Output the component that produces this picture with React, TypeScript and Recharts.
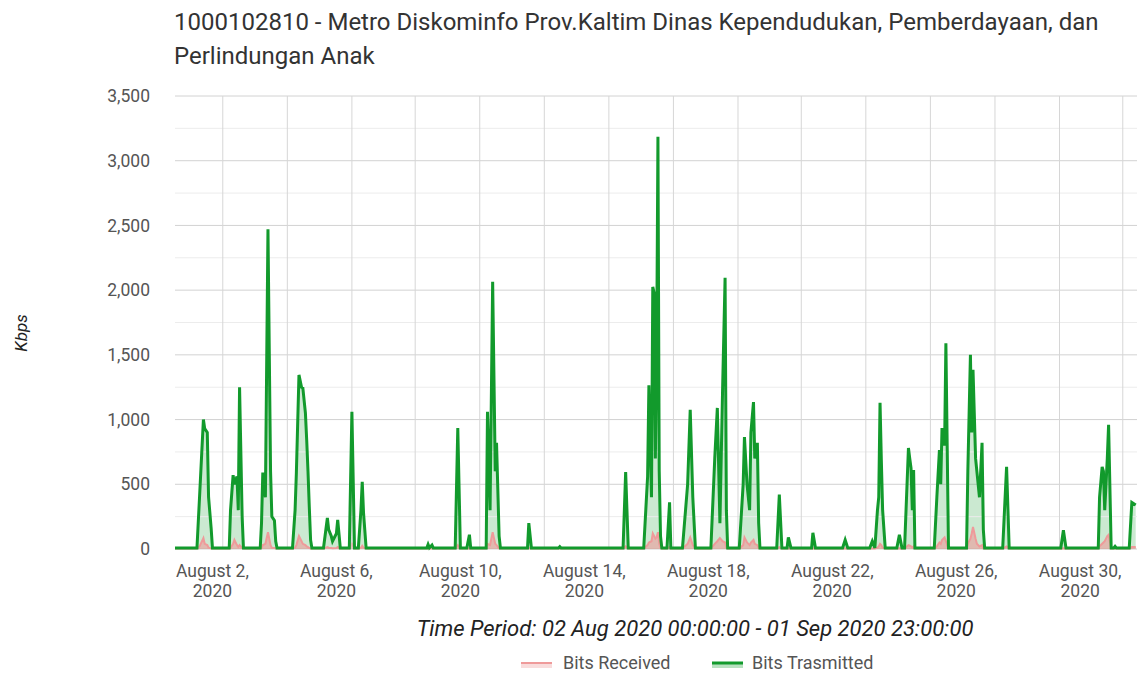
import React from 'react';
import { ComposedChart, Area, Line, XAxis, YAxis, CartesianGrid, ReferenceLine } from 'recharts';

const TITLE_LINES = [
  '1000102810 - Metro Diskominfo Prov.Kaltim Dinas Kependudukan, Pemberdayaan, dan',
  'Perlindungan Anak',
];
const X_AXIS_TITLE = 'Time Period: 02 Aug 2020 00:00:00 - 01 Sep 2020 23:00:00';
const Y_AXIS_TITLE = 'Kbps';
const SERIES_NAMES = ['Bits Received', 'Bits Trasmitted'];
const SERIES_COLORS = ['#ef9a9a', '#129a2c'];

// hour index since the start of the plotted period
const hours = [
  0, 17, 19, 22, 23, 25, 26, 28, 29,
  42, 43, 45, 46, 48, 49, 50, 52, 53,
  66, 67, 68, 70, 72, 74, 75, 77, 78, 79,
  91, 93, 94, 96, 98, 99, 101, 102, 103, 104, 105, 106,
  115, 118, 119, 121, 122, 125, 126, 128,
  135, 137, 139,
  142, 144, 145, 146, 148,
  195, 196, 197, 199, 200,
  217, 219, 221, 226, 228, 229,
  241, 242, 244, 246, 248, 249, 251, 252,
  273, 274, 276, 297, 298, 299,
  347, 349, 351,
  363, 366, 367, 369, 370, 371, 372, 373, 374, 375, 376, 377,
  381, 383, 384,
  393, 397, 399, 401, 403,
  415, 418, 420, 422, 424, 426, 427, 428,
  437, 440, 441, 443, 445, 446, 448, 449, 451, 452, 453,
  466, 468, 470, 474, 475, 477,
  493, 494, 496, 517, 519, 521, 538, 540,
  542, 544, 545, 546, 547, 548, 550,
  559, 561, 563,
  565, 568, 569, 570, 571, 572, 573,
  588, 590, 592, 593, 594, 596, 597, 599,
  613, 614, 616, 617, 618, 620, 621, 623, 625, 626, 627,
  641, 644, 646, 686, 688, 690,
  715, 716, 718, 719, 720, 722, 723, 725,
  727, 728, 729, 739, 741, 744,
];

const bitsTransmitted = [
  8, 8, 400, 1000, 930, 900, 400, 160, 8,
  8, 300, 570, 500, 560, 300, 1250, 250, 8,
  8, 200, 590, 400, 2470, 600, 250, 220, 60, 8,
  8, 300, 590, 1345, 1250, 1245, 1050, 840, 600, 325, 70, 8,
  8, 240, 150, 100, 60, 120, 225, 8,
  8, 1060, 8,
  8, 300, 520, 280, 8,
  8, 35, 10, 30, 8,
  8, 935, 8, 8, 110, 8,
  8, 1060, 300, 2065, 600, 820, 100, 8,
  8, 200, 8, 8, 18, 8,
  8, 595, 8,
  8, 560, 1265, 400, 2025, 1980, 700, 1500, 3185, 600, 100, 8,
  8, 360, 8,
  8, 500, 1075, 400, 8,
  8, 700, 1090, 200, 1200, 2095, 300, 8,
  8, 500, 865, 500, 300, 900, 1135, 700, 820, 200, 8,
  8, 420, 8, 8, 90, 8,
  8, 125, 8, 8, 70, 8, 8, 60,
  8, 300, 400, 1130, 690, 300, 8,
  8, 110, 8,
  8, 780, 700, 625, 300, 610, 8,
  8, 400, 765, 500, 935, 800, 1590, 8,
  8, 600, 1500, 900, 1385, 700, 600, 400, 820, 150, 8,
  8, 635, 8, 8, 145, 8,
  8, 400, 635, 600, 300, 700, 960, 8,
  8, 20, 8, 8, 360, 340,
];

const bitsReceived = [
  3, 3, 20, 85, 40, 30, 10, 5, 3,
  3, 10, 40, 70, 30, 15, 30, 8, 3,
  3, 10, 30, 40, 130, 30, 10, 8, 3, 3,
  3, 10, 30, 100, 60, 40, 30, 20, 15, 8, 3, 3,
  3, 15, 10, 8, 5, 8, 15, 3,
  3, 40, 3,
  3, 10, 25, 10, 3,
  3, 3, 3, 3, 3,
  3, 30, 3, 3, 5, 3,
  3, 40, 30, 130, 40, 30, 5, 3,
  3, 8, 3, 3, 3, 3,
  3, 20, 3,
  3, 30, 50, 60, 120, 100, 80, 90, 130, 40, 10, 3,
  3, 15, 3,
  3, 40, 90, 30, 3,
  3, 40, 60, 85, 60, 50, 10, 3,
  3, 30, 90, 50, 30, 50, 70, 40, 30, 8, 3,
  3, 15, 3, 3, 5, 3,
  3, 5, 3, 3, 3, 3, 3, 3,
  3, 10, 20, 40, 30, 10, 3,
  3, 5, 3,
  3, 30, 25, 20, 10, 20, 3,
  3, 20, 50, 40, 70, 90, 60, 3,
  3, 40, 80, 120, 170, 80, 40, 20, 30, 5, 3,
  3, 20, 3, 3, 5, 3,
  3, 20, 40, 50, 60, 100, 110, 3,
  3, 3, 3, 3, 15, 15,
];

const xTickHours = [29, 125, 221, 317, 413, 509, 605, 701];
const xTickLabels = ['August 2,', 'August 6,', 'August 10,', 'August 14,', 'August 18,', 'August 22,', 'August 26,', 'August 30,'];
const xTickYear = '2020';
const xGridHours = [37, 87, 137, 186, 236, 286, 336, 386, 436, 485, 535, 585, 635, 685, 734];
const yTicks = [0, 500, 1000, 1500, 2000, 2500, 3000, 3500];
const yMinorTicks = [250, 750, 1250, 1750, 2250, 2750, 3250];

const data = hours.map((h, i) => ({ hour: h, rx: bitsReceived[i], tx: bitsTransmitted[i] }));

const FONT = 'Roboto, Arial, sans-serif';

const XTick = (props: any) => {
  const { x, y, payload } = props;
  const i = xTickHours.indexOf(payload.value);
  return (
    <text x={x} y={y} textAnchor="middle" fill="#555" fontSize={17.5} fontFamily={FONT}>
      <tspan x={x} dy={28}>{xTickLabels[i]}</tspan>
      <tspan x={x} dy={20}>{xTickYear}</tspan>
    </text>
  );
};

export default function App() {
  return (
    <div style={{ position: 'absolute', left: 0, top: 0, width: 1137, height: 678, background: '#fff', fontFamily: FONT }}>
      <ComposedChart width={1137} height={678} data={data} margin={{ top: 96, right: 0, bottom: 79, left: 115 }}>
        <CartesianGrid vertical={false} stroke="#d2d2d2" />
        {yMinorTicks.map((v) => (
          <ReferenceLine key={'m' + v} y={v} stroke="#ececec" />
        ))}
        {xGridHours.map((h) => (
          <ReferenceLine key={'g' + h} x={h} stroke="#d6d6d6" />
        ))}
        <XAxis
          dataKey="hour"
          type="number"
          domain={[0, 745]}
          ticks={xTickHours}
          interval={0}
          tick={<XTick />}
          tickLine={false}
          axisLine={false}
          tickSize={0}
          tickMargin={0}
          height={50}
          allowDataOverflow
        />
        <YAxis
          domain={[0, 3500]}
          ticks={yTicks}
          width={60}
          tickLine={false}
          axisLine={false}
          tickSize={0}
          tickMargin={25}
          tick={{ fontSize: 17.5, fill: '#555', fontFamily: FONT }}
          tickFormatter={(v: number) => v.toLocaleString('en-US')}
        />
        <Area
          type="linear"
          dataKey="tx"
          name={SERIES_NAMES[1] + ' fill'}
          stroke="none"
          fill={SERIES_COLORS[1]}
          fillOpacity={0.22}
          isAnimationActive={false}
          dot={false}
          activeDot={false}
        />
        <Area
          type="linear"
          dataKey="rx"
          name={SERIES_NAMES[0]}
          stroke={SERIES_COLORS[0]}
          strokeWidth={2}
          fill={SERIES_COLORS[0]}
          fillOpacity={0.6}
          isAnimationActive={false}
          dot={false}
          activeDot={false}
        />
        <Line
          type="linear"
          dataKey="tx"
          name={SERIES_NAMES[1]}
          stroke={SERIES_COLORS[1]}
          strokeWidth={3}
          isAnimationActive={false}
          dot={false}
          activeDot={false}
        />
      </ComposedChart>
      <svg
        width={1137}
        height={678}
        style={{ position: 'absolute', left: 0, top: 0, pointerEvents: 'none' }}
      >
        <text x={174} y={30} fontSize={24} fill="#333" fontFamily={FONT}>{TITLE_LINES[0]}</text>
        <text x={174} y={64} fontSize={24} fill="#333" fontFamily={FONT}>{TITLE_LINES[1]}</text>
        <text
          x={27}
          y={333}
          transform="rotate(-90 27 333)"
          textAnchor="middle"
          fontSize={17}
          fontStyle="italic"
          fill="#222"
          fontFamily={FONT}
        >
          {Y_AXIS_TITLE}
        </text>
        <text x={695} y={636} textAnchor="middle" fontSize={22} fontStyle="italic" fill="#222" fontFamily={FONT}>
          {X_AXIS_TITLE}
        </text>
        <g>
          <rect x={521} y={663} width={31} height={5} fill={SERIES_COLORS[0]} fillOpacity={0.35} />
          <line x1={521} y1={663} x2={552} y2={663} stroke={SERIES_COLORS[0]} strokeWidth={2} />
          <text x={563} y={669} fontSize={18} fill="#555" fontFamily={FONT}>{SERIES_NAMES[0]}</text>
          <rect x={712} y={663} width={31} height={5} fill={SERIES_COLORS[1]} fillOpacity={0.3} />
          <line x1={712} y1={663} x2={743} y2={663} stroke={SERIES_COLORS[1]} strokeWidth={3} />
          <text x={752} y={669} fontSize={18} fill="#555" fontFamily={FONT}>{SERIES_NAMES[1]}</text>
        </g>
      </svg>
    </div>
  );
}
